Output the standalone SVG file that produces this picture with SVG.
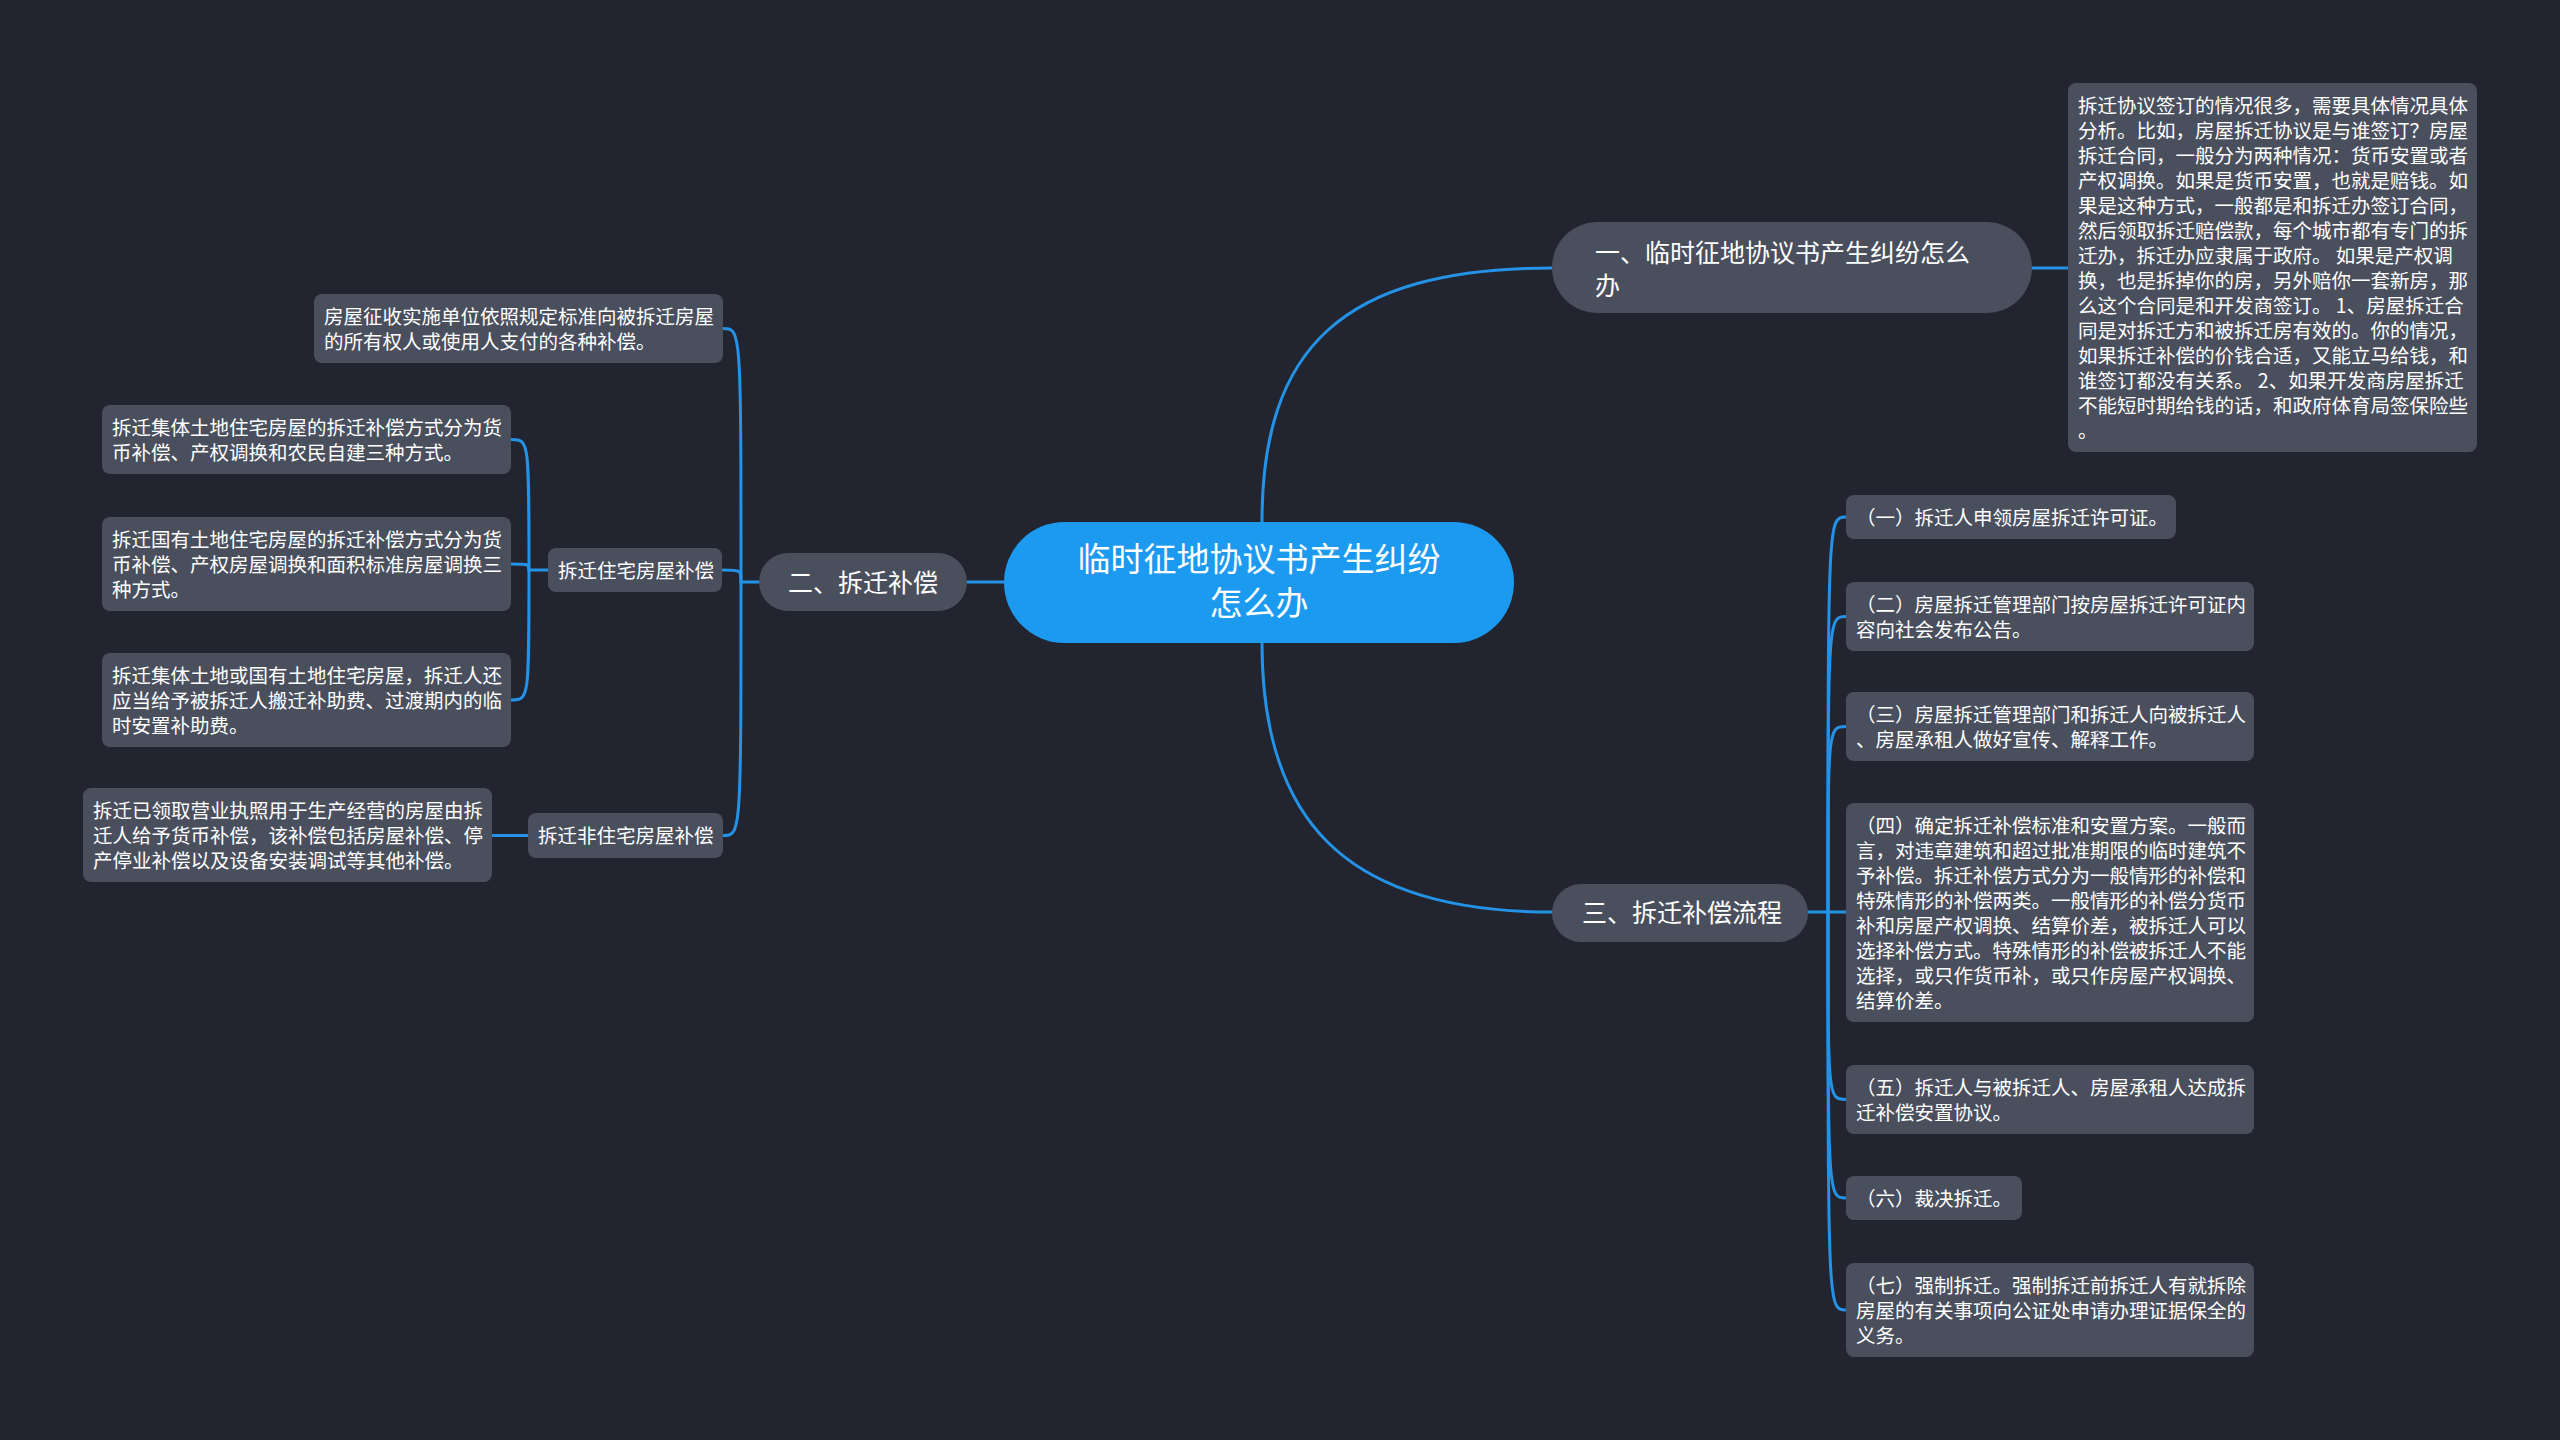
<svg xmlns="http://www.w3.org/2000/svg" width="2560" height="1440" viewBox="0 0 2560 1440">
<style>
.bg{fill:#22252f}
.root{fill:#1b9af0}
.br{fill:#4a4f5e}
.leaf{fill:#4a4f5e}
text{font-family:"Noto Sans CJK SC","Noto Sans",sans-serif;fill:#ffffff}
.t33{font-size:33px}
.t25{font-size:25px}
.t19{font-size:19.5px}
.ln{fill:none;stroke:#2492e6;stroke-width:3;stroke-linecap:round}
</style>
<rect class="bg" x="0" y="0" width="2560" height="1440"/>
<g id="connectors">
<path class="ln" d="M1262,522 C1262,350 1340,268 1552,268"/>
<path class="ln" d="M1262,643 C1262,815 1340,912 1552,912"/>
<path class="ln" d="M1004,582 L967,582"/>
<path class="ln" d="M2032,268 L2068,268"/>
<path class="ln" d="M759,582 L741,582"/>
<path class="ln" d="M741,582 C741,328.5 741,328.5 723,328.5"/>
<path class="ln" d="M741,582 C741,570 741,570 723,570"/>
<path class="ln" d="M741,582 C741,835.5 741,835.5 723,835.5"/>
<path class="ln" d="M548,570 L529,570"/>
<path class="ln" d="M529,570 C529,439.5 529,439.5 511,439.5"/>
<path class="ln" d="M529,570 C529,564 529,564 511,564"/>
<path class="ln" d="M529,570 C529,700 529,700 511,700"/>
<path class="ln" d="M528,835.5 L492,835.5"/>
<path class="ln" d="M1808,912 L1846,912"/>
<path class="ln" d="M1828,912 C1828,517 1828,517 1846,517"/>
<path class="ln" d="M1828,912 C1828,616.5 1828,616.5 1846,616.5"/>
<path class="ln" d="M1828,912 C1828,726.5 1828,726.5 1846,726.5"/>
<path class="ln" d="M1828,912 C1828,1099.5 1828,1099.5 1846,1099.5"/>
<path class="ln" d="M1828,912 C1828,1198 1828,1198 1846,1198"/>
<path class="ln" d="M1828,912 C1828,1310 1828,1310 1846,1310"/>
</g>
<g id="root">
<rect class="root" x="1004" y="522" width="510" height="121" rx="60.5"/>
<text class="t33" x="1259" y="571" text-anchor="middle">临时征地协议书产生纠纷</text>
<text class="t33" x="1259" y="615" text-anchor="middle">怎么办</text>
</g>
<g id="branch1">
<rect class="br" x="1552" y="222" width="480" height="91" rx="45.5"/>
<text class="t25" x="1595" y="262">一、临时征地协议书产生纠纷怎么</text>
<text class="t25" x="1595" y="295">办</text>
</g>
<g id="b1-detail">
<rect class="leaf" x="2068" y="83" width="409" height="369" rx="8"/>
<text class="t19" x="2078" y="112.5">拆迁协议签订的情况很多，需要具体情况具体</text>
<text class="t19" x="2078" y="137.5">分析。比如，房屋拆迁协议是与谁签订？房屋</text>
<text class="t19" x="2078" y="162.5">拆迁合同，一般分为两种情况：货币安置或者</text>
<text class="t19" x="2078" y="187.5">产权调换。如果是货币安置，也就是赔钱。如</text>
<text class="t19" x="2078" y="212.5">果是这种方式，一般都是和拆迁办签订合同，</text>
<text class="t19" x="2078" y="237.5">然后领取拆迁赔偿款，每个城市都有专门的拆</text>
<text class="t19" x="2078" y="262.5">迁办，拆迁办应隶属于政府。 如果是产权调</text>
<text class="t19" x="2078" y="287.5">换，也是拆掉你的房，另外赔你一套新房，那</text>
<text class="t19" x="2078" y="312.5">么这个合同是和开发商签订。 1、房屋拆迁合</text>
<text class="t19" x="2078" y="337.5">同是对拆迁方和被拆迁房有效的。你的情况，</text>
<text class="t19" x="2078" y="362.5">如果拆迁补偿的价钱合适，又能立马给钱，和</text>
<text class="t19" x="2078" y="387.5">谁签订都没有关系。 2、如果开发商房屋拆迁</text>
<text class="t19" x="2078" y="412.5">不能短时期给钱的话，和政府体育局签保险些</text>
<text class="t19" x="2078" y="437.5">。</text>
</g>
<g id="branch2">
<rect class="br" x="759" y="553" width="208" height="58" rx="29"/>
<text class="t25" x="788" y="592">二、拆迁补偿</text>
</g>
<g id="b2-a">
<rect class="leaf" x="314" y="294" width="409" height="69" rx="8"/>
<text class="t19" x="324" y="323.5">房屋征收实施单位依照规定标准向被拆迁房屋</text>
<text class="t19" x="324" y="348.5">的所有权人或使用人支付的各种补偿。</text>
</g>
<g id="b2-b">
<rect class="leaf" x="548" y="548" width="174" height="44" rx="8"/>
<text class="t19" x="558" y="577.5">拆迁住宅房屋补偿</text>
</g>
<g id="b2-b1">
<rect class="leaf" x="102" y="405" width="409" height="69" rx="8"/>
<text class="t19" x="112" y="434.5">拆迁集体土地住宅房屋的拆迁补偿方式分为货</text>
<text class="t19" x="112" y="459.5">币补偿、产权调换和农民自建三种方式。</text>
</g>
<g id="b2-b2">
<rect class="leaf" x="102" y="517" width="409" height="94" rx="8"/>
<text class="t19" x="112" y="546.5">拆迁国有土地住宅房屋的拆迁补偿方式分为货</text>
<text class="t19" x="112" y="571.5">币补偿、产权房屋调换和面积标准房屋调换三</text>
<text class="t19" x="112" y="596.5">种方式。</text>
</g>
<g id="b2-b3">
<rect class="leaf" x="102" y="653" width="409" height="94" rx="8"/>
<text class="t19" x="112" y="682.5">拆迁集体土地或国有土地住宅房屋，拆迁人还</text>
<text class="t19" x="112" y="707.5">应当给予被拆迁人搬迁补助费、过渡期内的临</text>
<text class="t19" x="112" y="732.5">时安置补助费。</text>
</g>
<g id="b2-c">
<rect class="leaf" x="528" y="813" width="195" height="45" rx="8"/>
<text class="t19" x="538" y="843">拆迁非住宅房屋补偿</text>
</g>
<g id="b2-c1">
<rect class="leaf" x="83" y="788" width="409" height="94" rx="8"/>
<text class="t19" x="93" y="817.5">拆迁已领取营业执照用于生产经营的房屋由拆</text>
<text class="t19" x="93" y="842.5">迁人给予货币补偿，该补偿包括房屋补偿、停</text>
<text class="t19" x="93" y="867.5">产停业补偿以及设备安装调试等其他补偿。</text>
</g>
<g id="branch3">
<rect class="br" x="1552" y="884" width="256" height="58" rx="29"/>
<text class="t25" x="1582" y="922">三、拆迁补偿流程</text>
</g>
<g id="b3-1">
<rect class="leaf" x="1846" y="495" width="330" height="44" rx="8"/>
<text class="t19" x="1856" y="524.5">（一）拆迁人申领房屋拆迁许可证。</text>
</g>
<g id="b3-2">
<rect class="leaf" x="1846" y="582" width="408" height="69" rx="8"/>
<text class="t19" x="1856" y="611.5">（二）房屋拆迁管理部门按房屋拆迁许可证内</text>
<text class="t19" x="1856" y="636.5">容向社会发布公告。</text>
</g>
<g id="b3-3">
<rect class="leaf" x="1846" y="692" width="408" height="69" rx="8"/>
<text class="t19" x="1856" y="721.5">（三）房屋拆迁管理部门和拆迁人向被拆迁人</text>
<text class="t19" x="1856" y="746.5">、房屋承租人做好宣传、解释工作。</text>
</g>
<g id="b3-4">
<rect class="leaf" x="1846" y="803" width="408" height="219" rx="8"/>
<text class="t19" x="1856" y="832.5">（四）确定拆迁补偿标准和安置方案。一般而</text>
<text class="t19" x="1856" y="857.5">言，对违章建筑和超过批准期限的临时建筑不</text>
<text class="t19" x="1856" y="882.5">予补偿。拆迁补偿方式分为一般情形的补偿和</text>
<text class="t19" x="1856" y="907.5">特殊情形的补偿两类。一般情形的补偿分货币</text>
<text class="t19" x="1856" y="932.5">补和房屋产权调换、结算价差，被拆迁人可以</text>
<text class="t19" x="1856" y="957.5">选择补偿方式。特殊情形的补偿被拆迁人不能</text>
<text class="t19" x="1856" y="982.5">选择，或只作货币补，或只作房屋产权调换、</text>
<text class="t19" x="1856" y="1007.5">结算价差。</text>
</g>
<g id="b3-5">
<rect class="leaf" x="1846" y="1065" width="408" height="69" rx="8"/>
<text class="t19" x="1856" y="1094.5">（五）拆迁人与被拆迁人、房屋承租人达成拆</text>
<text class="t19" x="1856" y="1119.5">迁补偿安置协议。</text>
</g>
<g id="b3-6">
<rect class="leaf" x="1846" y="1176" width="176" height="44" rx="8"/>
<text class="t19" x="1856" y="1205.5">（六）裁决拆迁。</text>
</g>
<g id="b3-7">
<rect class="leaf" x="1846" y="1263" width="408" height="94" rx="8"/>
<text class="t19" x="1856" y="1292.5">（七）强制拆迁。强制拆迁前拆迁人有就拆除</text>
<text class="t19" x="1856" y="1317.5">房屋的有关事项向公证处申请办理证据保全的</text>
<text class="t19" x="1856" y="1342.5">义务。</text>
</g>
</svg>
